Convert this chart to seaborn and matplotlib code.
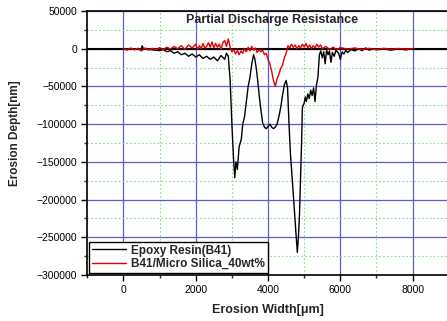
import numpy as np
import pandas as pd
import matplotlib
matplotlib.use("Agg")
import matplotlib.pyplot as plt
import seaborn as sns
from matplotlib.ticker import MultipleLocator

# Epoxy Resin(B41) profile
epoxy_x = [-1000, 0, 400, 480, 520, 560, 650, 800, 1000, 1100, 1200, 1300, 1400, 1500,
           1600, 1700, 1800, 1900, 2000, 2100, 2200, 2300, 2400, 2500, 2600, 2700, 2800,
           2850, 2900, 2950, 3000, 3050, 3080, 3110, 3150, 3200, 3260, 3300, 3350, 3400,
           3450, 3500, 3550, 3600, 3640, 3680, 3720, 3760, 3800, 3850, 3900, 3950, 4000,
           4050, 4100, 4150, 4200, 4250, 4300, 4350, 4400, 4450, 4500, 4540, 4580, 4620,
           4680, 4730, 4780, 4810, 4840, 4870, 4900, 4930, 4950, 5000, 5030, 5060, 5100,
           5140, 5180, 5220, 5260, 5300, 5340, 5380, 5420, 5460, 5500, 5540, 5580, 5620,
           5660, 5700, 5740, 5780, 5830, 5880, 5950, 6000, 6050, 6100, 6150, 6200, 6300,
           6400, 6500, 6600, 6700, 6800, 6900, 7000, 7200, 7400, 7600, 7800, 8000, 9000]
epoxy_y = [0, 0, 0, -2000, 4000, -1000, 0, -1500, -2500, -1000, -4000, -2500, -6000, -4000,
           -8000, -6000, -10000, -7000, -11000, -8000, -13000, -10000, -14000, -11000, -16000,
           -9000, -14000, -6000, -10000, -40000, -100000, -150000, -171000, -150000, -160000,
           -130000, -120000, -100000, -90000, -70000, -50000, -38000, -20000, -8000, -15000,
           -28000, -45000, -64000, -80000, -98000, -104000, -106000, -103000, -100000, -104000,
           -106000, -104000, -100000, -90000, -78000, -62000, -48000, -42000, -52000, -100000,
           -140000, -180000, -215000, -250000, -270000, -250000, -220000, -170000, -120000,
           -78000, -72000, -64000, -70000, -60000, -66000, -55000, -62000, -52000, -70000,
           -48000, -38000, -8000, -3000, -12000, -4000, -20000, -2000, -8000, -3000, -18000,
           -5000, -10000, -2000, -6000, -14000, -4000, -7000, -2000, -5000, -1000, -3000, 0,
           -2500, 1000, -2000, 0, -1500, 0, -2000, 0, -1500, 0, 0]

# B41/Micro Silica_40wt% profile
silica_x = [0, 100, 200, 300, 400, 500, 600, 700, 800, 900, 1000, 1100, 1200, 1300, 1400,
            1500, 1600, 1700, 1800, 1900, 2000, 2050, 2100, 2150, 2200, 2250, 2300, 2350,
            2400, 2450, 2500, 2550, 2600, 2650, 2700, 2750, 2800, 2850, 2900, 2950, 3000,
            3050, 3100, 3150, 3200, 3250, 3300, 3350, 3400, 3450, 3500, 3550, 3600, 3650,
            3700, 3750, 3800, 3850, 3900, 3950, 4000, 4050, 4100, 4150, 4200, 4250, 4300,
            4350, 4400, 4450, 4500, 4550, 4600, 4650, 4700, 4750, 4800, 4850, 4900, 4950,
            5000, 5050, 5100, 5150, 5200, 5250, 5300, 5350, 5400, 5450, 5500, 5600, 5700,
            5800, 5900, 6000, 6200, 6400, 6600, 6800, 7000, 7200, 7400, 7600, 7800, 8000]
silica_y = [0, -2000, 1000, -1500, 500, -3000, 1000, -2000, 500, -1500, 1500, -1000, 2000,
            -500, 3000, 0, 4000, -1000, 5000, 1000, 6000, -1000, 4000, 0, 7000, 1000, 3000,
            8000, 2000, 9000, 1000, 7000, 2000, 6000, -1000, 8000, 11000, 3000, 13000, 2000,
            -4000, -1000, -7000, -2000, -8000, -3000, -6000, 0, -4000, 2000, -3000, 3000,
            -2000, 1000, -5000, -1000, -4000, -2000, -8000, -6000, -14000, -20000, -30000,
            -42000, -50000, -40000, -34000, -26000, -22000, -12000, -6000, 4000, 1000, 6000,
            2000, 5000, 0, 4000, 1000, 6000, 2000, 7000, 1000, 5000, 0, 4000, 1000, 6000,
            2000, 5000, 0, 3000, -1000, 2000, -1000, 1500, -500, 1000, -1000, 500, -1000, 500,
            -800, 300, -500, 0]

epoxy_label = "Epoxy Resin(B41)"
silica_label = "B41/Micro Silica_40wt%"

sns.set_style("ticks")
plt.rcParams["font.family"] = ["Liberation Sans", "DejaVu Sans"]

fig = plt.figure(figsize=(4.47, 3.21), dpi=100)
ax = fig.add_axes([0.1953, 0.1433, 0.8087, 0.8224])

df_epoxy = pd.DataFrame({"x": epoxy_x, "y": epoxy_y})
df_silica = pd.DataFrame({"x": silica_x, "y": silica_y})

ax.axhline(0, color="black", lw=1.5, zorder=2)
sns.lineplot(data=df_epoxy, x="x", y="y", ax=ax, color="black", lw=1.0,
             sort=False, estimator=None, label=epoxy_label, zorder=3)
sns.lineplot(data=df_silica, x="x", y="y", ax=ax, color="#e00000", lw=1.0,
             sort=False, estimator=None, label=silica_label, zorder=4)

ax.set_xlim(-1000, 9000)
ax.set_ylim(-300000, 50000)
ax.xaxis.set_major_locator(MultipleLocator(2000))
ax.xaxis.set_minor_locator(MultipleLocator(1000))
ax.yaxis.set_major_locator(MultipleLocator(50000))
ax.yaxis.set_minor_locator(MultipleLocator(25000))

ax.grid(which="major", color="#5a5ad2", lw=0.9, ls="-")
ax.grid(which="minor", color="#86e086", lw=0.8, ls=(0, (1.5, 2)))
ax.set_axisbelow(True)

for s in ["left", "bottom", "top", "right"]:
    ax.spines[s].set_color("black")
    ax.spines[s].set_linewidth(1.2)

ax.tick_params(which="major", direction="out", length=4, width=1, labelsize=7.5, colors="black")
ax.tick_params(which="minor", direction="out", length=2.5, width=1)
ax.set_xticks([0, 2000, 4000, 6000, 8000])

ax.set_xlabel("Erosion Width[\u03bcm]", fontsize=9, fontweight="bold", labelpad=6)
ax.set_ylabel("Erosion Depth[nm]", fontsize=8.5, fontweight="bold")
ax.yaxis.set_label_coords(-0.183, 0.538)

ax.text(4120, 38000, "Partial Discharge Resistance", fontsize=9, fontweight="bold",
        ha="center", va="center")

leg = ax.legend(loc="lower left", frameon=True, fancybox=False, edgecolor="black",
                prop={"size": 8.5, "weight": "bold"}, handlelength=2.9, borderpad=0.25,
                labelspacing=0.15, borderaxespad=0.15, handletextpad=0.4)
leg.get_frame().set_linewidth(1.0)
leg.get_frame().set_alpha(1)

fig.savefig("out.png", dpi=100)
